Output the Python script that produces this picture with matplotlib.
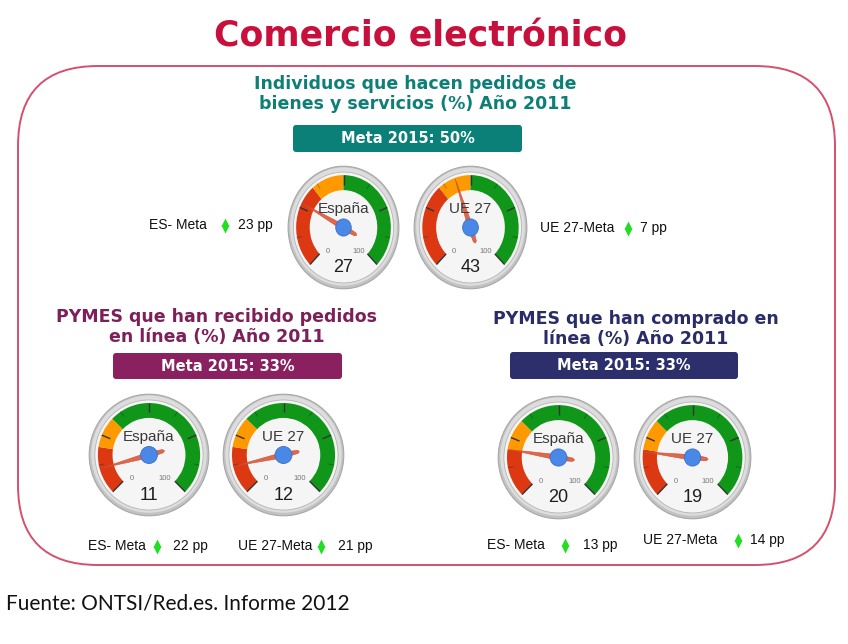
import numpy as np
import matplotlib
matplotlib.use("Agg")
import matplotlib.pyplot as plt
from matplotlib.patches import Circle, Wedge, Polygon, FancyBboxPatch

# ---- data ----
section_titles = [
    "Individuos que hacen pedidos de\nbienes y servicios (%) Año 2011",
    "PYMES que han recibido pedidos\nen línea (%) Año 2011",
    "PYMES que han comprado en\nlínea (%) Año 2011",
]
meta_targets = [50, 33, 33]
red_limits = [35, 20, 20]          # end of red zone in each section
gauge_names = ["España", "UE 27", "España", "UE 27", "España", "UE 27"]
gauge_values = [27, 43, 11, 12, 20, 19]
gauge_section = [0, 0, 1, 1, 2, 2]
gap_labels = ["ES- Meta", "UE 27-Meta", "ES- Meta", "UE 27-Meta", "ES- Meta", "UE 27-Meta"]
gap_values = [23, 7, 22, 21, 13, 14]

# ---- layout (pixels, y from top) ----
W, H = 848, 644
section_colors = ["#0e7f77", "#7d1f58", "#2a2c68"]
box_colors = ["#0b8078", "#8a2060", "#2c2f6c"]
title_pos = [(415, 94), (217, 327), (636, 329)]
box_pos = [(293, 125, 229, 27), (113, 353, 229, 26), (510, 352, 228, 27)]
gauge_boxes = [(287, 165, 113, 125), (413, 165, 115, 125),
               (88, 393, 122, 124), (222, 393, 123, 124),
               (497, 395, 123, 125), (633, 395, 119, 125)]
gap_pos = [(149, 225, 225, 238), (540, 228, 628, 640),
           (88, 546, 157, 173), (238, 546, 321, 338),
           (487, 545, 565, 583), (643, 540, 738, 750)]

RED, ORANGE, GREEN = "#dc3912", "#ff9900", "#109618"


def ang(v):
    return np.deg2rad(225 - 2.7 * v)


def draw_gauge(box, name, value, red_to, green_from):
    x0, y0, w, h = box
    gx = fig.add_axes([x0 / W, 1 - (y0 + h) / H, w / W, h / H])
    gx.set_xlim(-1.02, 1.02)
    gx.set_ylim(-1.02, 1.02)
    gx.axis("off")

    gx.add_patch(Circle((0, 0), 1.0, fc="#c2c2c2", ec="#a8a8a8", lw=0.8))
    gx.add_patch(Circle((0, 0.015), 0.965, fc="#dddddd", ec="none"))
    gx.add_patch(Circle((0, 0), 0.905, fc="#f5f5f5", ec="#b5b5b5", lw=0.6))

    zones = [(0, red_to, RED), (red_to, green_from, ORANGE), (green_from, 100, GREEN)]
    for a, b, c in zones:
        gx.add_patch(Wedge((0, 0), 0.855, np.rad2deg(ang(b)), np.rad2deg(ang(a)),
                           width=0.245, fc=c, ec="none"))

    for v in [0, 25, 50, 75, 100]:
        t = ang(v)
        r0 = 0.61 if v in (0, 100) else 0.70
        gx.plot([r0 * np.cos(t), 0.855 * np.cos(t)], [r0 * np.sin(t), 0.855 * np.sin(t)],
                color="#333333", lw=1.0, solid_capstyle="butt")
    for v in [12.5, 37.5, 62.5, 87.5]:
        t = ang(v)
        gx.plot([0.77 * np.cos(t), 0.855 * np.cos(t)], [0.77 * np.sin(t), 0.855 * np.sin(t)],
                color="#000000", alpha=0.25, lw=0.7)

    gx.text(0.55 * np.cos(ang(0)) + 0.1, 0.55 * np.sin(ang(0)), "0", fontsize=5.5,
            color="#777777", ha="center", va="center", family="Liberation Sans")
    gx.text(0.55 * np.cos(ang(100)) - 0.12, 0.55 * np.sin(ang(100)), "100", fontsize=5.5,
            color="#777777", ha="center", va="center", family="Liberation Sans")

    gx.text(0, 0.3, name, fontsize=11, color="#3a3a3a", ha="center", va="center",
            family="Liberation Sans")
    gx.text(0, -0.66, str(value), fontsize=13, color="#1e1e1e", ha="center", va="center",
            family="Liberation Sans")

    # needle
    t = ang(value)
    u = np.array([np.cos(t), np.sin(t)])
    p = np.array([-np.sin(t), np.cos(t)])
    wd = 0.045
    pts = [0.84 * u, wd * p, -0.24 * u + 0.6 * wd * p, -0.27 * u,
           -0.24 * u - 0.6 * wd * p, -wd * p]
    gx.add_patch(Polygon(pts, closed=True, fc="#dc5b3d", ec="#c84a30", lw=0.4, alpha=0.92))
    gx.add_patch(Circle((0, 0), 0.14, fc="#4a88e8", ec="#3b6fc4", lw=0.6))


fig = plt.figure(figsize=(W / 100, H / 100), dpi=100)
ax = fig.add_axes([0, 0, 1, 1])
ax.set_xlim(0, W)
ax.set_ylim(H, 0)
ax.axis("off")

ax.text(420, 36, "Comercio electrónico", fontsize=25, fontweight="bold",
        color="#c8103c", ha="center", va="center", family="DejaVu Sans")

ax.add_patch(FancyBboxPatch((18, 66), 817, 499, boxstyle="round,pad=0,rounding_size=80",
                            fc="none", ec="#d4506c", lw=1.4))

for i, s in enumerate(section_titles):
    tx, ty = title_pos[i]
    ax.text(tx, ty, s, fontsize=12.5, fontweight="bold", color=section_colors[i],
            ha="center", va="center", linespacing=1.15, family="DejaVu Sans")
    bx, by, bw, bh = box_pos[i]
    ax.add_patch(FancyBboxPatch((bx, by), bw, bh, boxstyle="round,pad=0,rounding_size=3",
                                fc=box_colors[i], ec="none"))
    ax.text(bx + bw / 2, by + bh / 2, f"Meta 2015: {meta_targets[i]}%", fontsize=10.5,
            fontweight="bold", color="white", ha="center", va="center", family="DejaVu Sans")

for k in range(len(gauge_values)):
    sec = gauge_section[k]
    draw_gauge(gauge_boxes[k], gauge_names[k], gauge_values[k], red_limits[sec], meta_targets[sec])

    lx, ly, ix, vx = gap_pos[k]
    ax.text(lx, ly, gap_labels[k], fontsize=10, color="#111111", ha="left", va="center",
            family="Liberation Sans")
    ax.plot([ix], [ly - 3.5], marker="^", color="#22dd22", ms=6, mec="none")
    ax.plot([ix], [ly + 3.5], marker="v", color="#22dd22", ms=6, mec="none")
    ax.text(vx, ly, f"{gap_values[k]} pp", fontsize=10, color="#111111", ha="left",
            va="center", family="Liberation Sans")

ax.text(6, 604, "Fuente: ONTSI/Red.es. Informe 2012", fontsize=15, color="#111111",
        ha="left", va="center", family="Lato")

fig.savefig("out.png", dpi=100)
